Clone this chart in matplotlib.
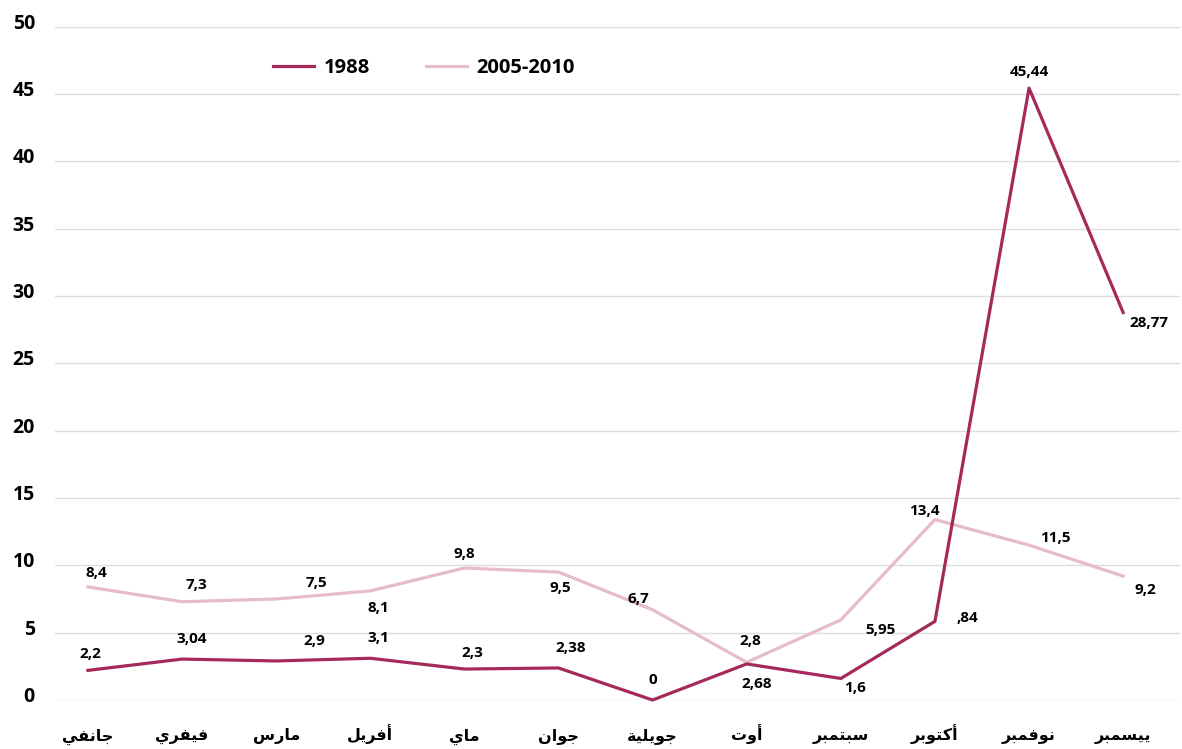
import matplotlib
matplotlib.use("Agg")
import matplotlib.pyplot as plt
import numpy as np

# mois (ordre janvier -> décembre)
mois = ["جانفي", "فيفري", "مارس", "أفريل", "ماي", "جوان",
        "جويلية", "أوت", "سبتمبر", "أكتوبر", "نوفمبر", "ييسمبر"]

pluie_1988 = [2.2, 3.04, 2.9, 3.1, 2.3, 2.38, 0, 2.68, 1.6, 5.84, 45.44, 28.77]
labels_1988 = ["2,2", "3,04", "2,9", "3,1", "2,3", "2,38", "0", "2,68", "1,6", ",84", "45,44", "28,77"]

pluie_moy = [8.4, 7.3, 7.5, 8.1, 9.8, 9.5, 6.7, 2.8, 5.95, 13.4, 11.5, 9.2]
labels_moy = ["8,4", "7,3", "7,5", "8,1", "9,8", "9,5", "6,7", "2,8", "5,95", "13,4", "11,5", "9,2"]

yticks = [0, 5, 10, 15, 20, 25, 30, 35, 40, 45, 50]

# décalages des étiquettes (pixels)
off_1988 = [(2, 16), (10, 20), (38, 20), (8, 20), (8, 16), (12, 20), (0, 20), (10, -20), (14, -10), (32, 3), (0, 16), (26, -10)]
off_moy = [(8, 14), (14, 17), (40, 16), (8, -17), (0, 14), (2, -16), (-14, 11), (4, 21), (40, -10), (-10, 9), (26, 7), (22, -14)]

# formes de présentation arabes : isolée, finale, initiale, médiane
FORMES = {
    "ا": ("\uFE8D", "\uFE8E", None, None),
    "أ": ("\uFE83", "\uFE84", None, None),
    "ب": ("\uFE8F", "\uFE90", "\uFE91", "\uFE92"),
    "ة": ("\uFE93", "\uFE94", None, None),
    "ت": ("\uFE95", "\uFE96", "\uFE97", "\uFE98"),
    "ج": ("\uFE9D", "\uFE9E", "\uFE9F", "\uFEA0"),
    "د": ("\uFEA9", "\uFEAA", None, None),
    "ر": ("\uFEAD", "\uFEAE", None, None),
    "س": ("\uFEB1", "\uFEB2", "\uFEB3", "\uFEB4"),
    "ف": ("\uFED1", "\uFED2", "\uFED3", "\uFED4"),
    "ك": ("\uFED9", "\uFEDA", "\uFEDB", "\uFEDC"),
    "ل": ("\uFEDD", "\uFEDE", "\uFEDF", "\uFEE0"),
    "م": ("\uFEE1", "\uFEE2", "\uFEE3", "\uFEE4"),
    "ن": ("\uFEE5", "\uFEE6", "\uFEE7", "\uFEE8"),
    "و": ("\uFEED", "\uFEEE", None, None),
    "ي": ("\uFEF1", "\uFEF2", "\uFEF3", "\uFEF4"),
}


def arabe(mot):
    out = []
    for i, c in enumerate(mot):
        if c not in FORMES:
            out.append(c)
            continue
        prev = mot[i - 1] if i > 0 else None
        nxt = mot[i + 1] if i < len(mot) - 1 else None
        lie_avant = prev in FORMES and FORMES[prev][2] is not None
        lie_apres = FORMES[c][2] is not None and nxt in FORMES
        iso, fin, ini, med = FORMES[c]
        if lie_avant and lie_apres:
            out.append(med)
        elif lie_avant:
            out.append(fin)
        elif lie_apres:
            out.append(ini)
        else:
            out.append(iso)
    return "".join(reversed(out))


plt.rcParams['font.family'] = ['Open Sans', 'DejaVu Sans']
plt.rcParams['font.weight'] = 'bold'

fig = plt.figure(figsize=(11.82, 7.49), dpi=100)
ax = fig.add_axes([0.0465, 0.0654, 0.9515, 0.899])

x = np.arange(len(mois))
c1988 = "#a52a5b"
cmoy = "#e6bccb"

ax.plot(x, pluie_moy, color=cmoy, lw=2.3, label="2005-2010", clip_on=False, zorder=3)
ax.plot(x, pluie_1988, color=c1988, lw=2.3, label="1988", clip_on=False, zorder=4)

for xi, v, t, o in zip(x, pluie_1988, labels_1988, off_1988):
    ax.annotate(t, (xi, v), xytext=o, textcoords="offset pixels",
                ha="center", va="center", fontsize=11, fontweight="bold")
for xi, v, t, o in zip(x, pluie_moy, labels_moy, off_moy):
    ax.annotate(t, (xi, v), xytext=o, textcoords="offset pixels",
                ha="center", va="center", fontsize=11, fontweight="bold")

ax.set_ylim(0, 50)
ax.set_xlim(-0.35, 11.6)
ax.set_yticks(yticks)
ax.set_yticklabels([])
# graduations y, un peu au-dessus des lignes de grille
for t in yticks:
    ax.annotate(str(t), (0, t), xycoords=("axes fraction", "data"),
                xytext=(-20, 3), textcoords="offset pixels",
                ha="right", va="center", fontsize=14, fontweight="bold",
                annotation_clip=False)
ax.set_xticks(x)
ax.set_xticklabels([])
# noms des mois, alignés sur une même ligne de base
for xi, m in zip(x, mois):
    ax.text(xi, -0.06, arabe(m), transform=ax.get_xaxis_transform(),
            ha="center", va="baseline", fontsize=11.5, fontweight="bold",
            family=['DejaVu Sans'])
ax.tick_params(axis="both", length=0)
ax.grid(axis="y", color="#dddddd", lw=1)
ax.set_axisbelow(True)
for s in ax.spines.values():
    s.set_visible(False)

handles, lbls = ax.get_legend_handles_labels()
ax.legend(handles[::-1], lbls[::-1], loc="upper left", bbox_to_anchor=(0.178, 0.98),
          ncol=2, frameon=False, handlelength=2.0, handletextpad=0.5,
          columnspacing=2.8, prop={"weight": "bold", "size": 14.5})

fig.savefig("out.png", dpi=100)
